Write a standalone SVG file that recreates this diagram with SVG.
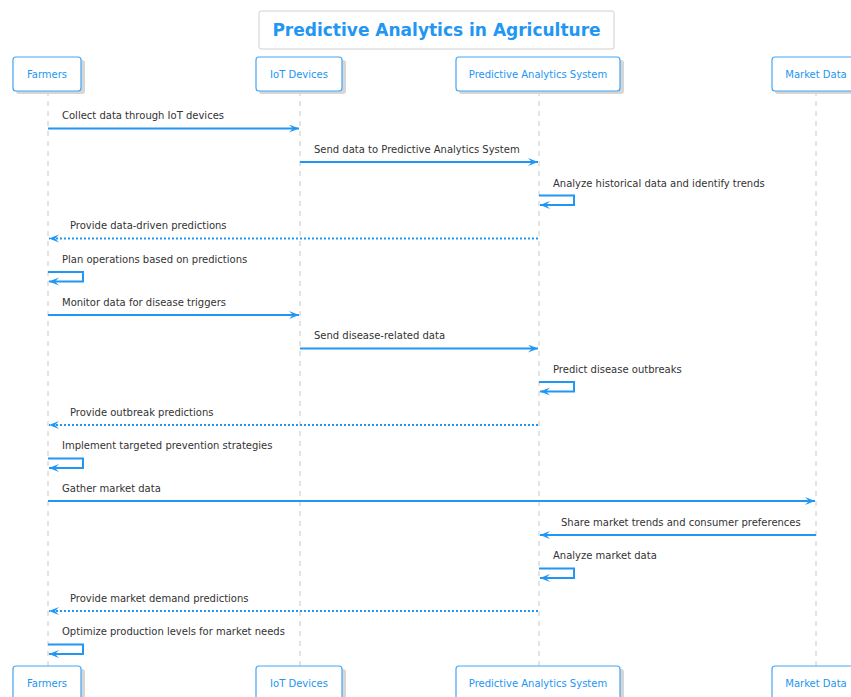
<svg xmlns="http://www.w3.org/2000/svg" width="851" height="697" viewBox="0 0 851 697">
<defs>
<style>
.bg{fill:#ffffff}
.box{fill:#ffffff;stroke:#42a5f5;stroke-width:1.2}
.shadow{fill:#d6d6d6}
.ptext{font-family:"DejaVu Sans",Verdana,sans-serif;font-size:10px;fill:#2196f3;text-anchor:middle}
.mtext{font-family:"DejaVu Sans",Verdana,sans-serif;font-size:10px;fill:#333333}
.life{stroke:#c8c8c8;stroke-width:1;stroke-dasharray:5,5;fill:none}
.msg{stroke:#2196f3;stroke-width:2;fill:none;marker-end:url(#ah)}
.dot{stroke:#2196f3;stroke-width:2;fill:none;stroke-dasharray:2,2;marker-end:url(#ah)}
.title{font-family:"DejaVu Sans",Verdana,sans-serif;font-size:17px;font-weight:bold;fill:#2196f3;text-anchor:middle}
</style>
<marker id="ah" markerUnits="userSpaceOnUse" markerWidth="12" markerHeight="10" refX="10" refY="4" orient="auto" viewBox="0 0 12 10">
<path d="M0,0 L10,4 L0,8 L4,4 Z" fill="#2196f3"/>
</marker>
</defs>
<rect class="bg" x="0" y="0" width="851" height="697"/>
<g id="title">
<rect x="259" y="11" width="355" height="38" rx="2" fill="#ffffff" stroke="#d0d0d0" stroke-width="1"/>
<text class="title" x="436.5" y="36">Predictive Analytics in Agriculture</text>
</g>
<g id="lifelines">
<line class="life" x1="48" y1="91" x2="48" y2="666"/>
<line class="life" x1="300" y1="91" x2="300" y2="666"/>
<line class="life" x1="539" y1="91" x2="539" y2="666"/>
<line class="life" x1="816" y1="91" x2="816" y2="666"/>
</g>
<g id="p-farmers">
<rect class="shadow" x="16" y="60" width="69" height="34" rx="3"/>
<rect class="box" x="13" y="57" width="68" height="34" rx="3"/>
<text class="ptext" x="47" y="77.5">Farmers</text>
</g>
<g id="p-iot">
<rect class="shadow" x="259" y="60" width="87" height="34" rx="3"/>
<rect class="box" x="256" y="57" width="86" height="34" rx="3"/>
<text class="ptext" x="299" y="77.5">IoT Devices</text>
</g>
<g id="p-pas">
<rect class="shadow" x="459" y="60" width="165" height="34" rx="3"/>
<rect class="box" x="456" y="57" width="164" height="34" rx="3"/>
<text class="ptext" x="538" y="77.5">Predictive Analytics System</text>
</g>
<g id="p-market">
<rect class="shadow" x="775" y="60" width="90" height="34" rx="3"/>
<rect class="box" x="772" y="57" width="88" height="34" rx="3"/>
<text class="ptext" x="816" y="77.5">Market Data</text>
</g>
<g id="p-farmers-bottom">
<rect class="shadow" x="16" y="669" width="69" height="34" rx="3"/>
<rect class="box" x="13" y="666" width="68" height="34" rx="3"/>
<text class="ptext" x="47" y="686.5">Farmers</text>
</g>
<g id="p-iot-bottom">
<rect class="shadow" x="259" y="669" width="87" height="34" rx="3"/>
<rect class="box" x="256" y="666" width="86" height="34" rx="3"/>
<text class="ptext" x="299" y="686.5">IoT Devices</text>
</g>
<g id="p-pas-bottom">
<rect class="shadow" x="459" y="669" width="165" height="34" rx="3"/>
<rect class="box" x="456" y="666" width="164" height="34" rx="3"/>
<text class="ptext" x="538" y="686.5">Predictive Analytics System</text>
</g>
<g id="p-market-bottom">
<rect class="shadow" x="775" y="669" width="90" height="34" rx="3"/>
<rect class="box" x="772" y="666" width="88" height="34" rx="3"/>
<text class="ptext" x="816" y="686.5">Market Data</text>
</g>
<g id="connectors">
<line class="msg" x1="48" y1="128.5" x2="299" y2="128.5"/>
<line class="msg" x1="300" y1="162" x2="538" y2="162"/>
<path class="msg" d="M539,195.5 H574 V205 H540"/>
<line class="dot" x1="538" y1="238.5" x2="49" y2="238.5"/>
<path class="msg" d="M48,272 H83 V281.5 H49"/>
<line class="msg" x1="48" y1="315" x2="299" y2="315"/>
<line class="msg" x1="300" y1="348.5" x2="538" y2="348.5"/>
<path class="msg" d="M539,382 H574 V391.5 H540"/>
<line class="dot" x1="538" y1="425" x2="49" y2="425"/>
<path class="msg" d="M48,458.5 H83 V468 H49"/>
<line class="msg" x1="48" y1="501" x2="815" y2="501"/>
<line class="msg" x1="816" y1="535" x2="540" y2="535"/>
<path class="msg" d="M539,568.5 H574 V578 H540"/>
<line class="dot" x1="538" y1="611" x2="49" y2="611"/>
<path class="msg" d="M48,644.5 H83 V654 H49"/>
</g>
<g id="labels">
<text class="mtext" x="62" y="119">Collect data through IoT devices</text>
<text class="mtext" x="314" y="152.5">Send data to Predictive Analytics System</text>
<text class="mtext" x="553" y="186.5">Analyze historical data and identify trends</text>
<text class="mtext" x="70" y="229">Provide data-driven predictions</text>
<text class="mtext" x="62" y="262.5">Plan operations based on predictions</text>
<text class="mtext" x="62" y="305.5">Monitor data for disease triggers</text>
<text class="mtext" x="314" y="339">Send disease-related data</text>
<text class="mtext" x="553" y="372.5">Predict disease outbreaks</text>
<text class="mtext" x="70" y="415.5">Provide outbreak predictions</text>
<text class="mtext" x="62" y="449">Implement targeted prevention strategies</text>
<text class="mtext" x="62" y="491.5">Gather market data</text>
<text class="mtext" x="561" y="525.5">Share market trends and consumer preferences</text>
<text class="mtext" x="553" y="559">Analyze market data</text>
<text class="mtext" x="70" y="601.5">Provide market demand predictions</text>
<text class="mtext" x="62" y="635">Optimize production levels for market needs</text>
</g>
</svg>
